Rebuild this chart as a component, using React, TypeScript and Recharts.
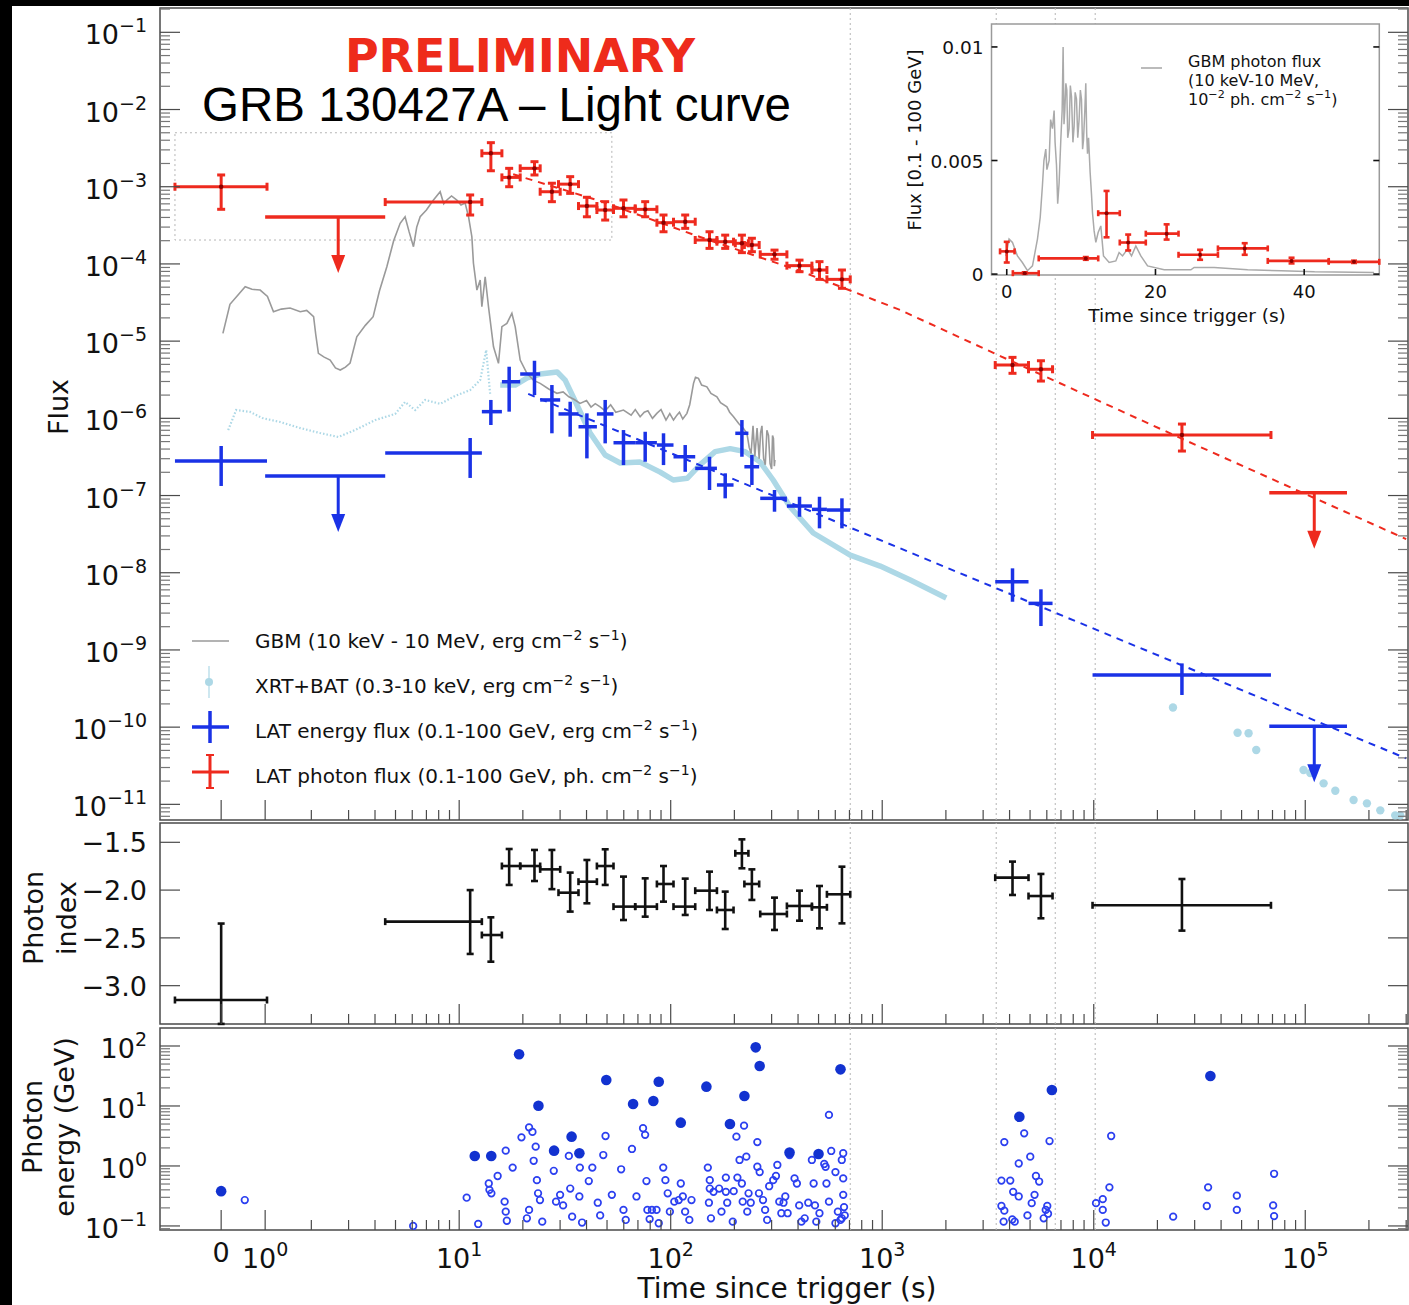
import React from 'react';
import { ComposedChart, Scatter, Line, XAxis, YAxis, ErrorBar, ReferenceLine, ReferenceArea, CartesianGrid } from 'recharts';

// ---------------- LAT time bins (s) ----------------
const LAT_T = [0, 11.27, 14.12, 17.23, 22.7, 27.44, 33.48, 40.16, 49.01, 59.81, 75.75, 92.47, 117.1, 152.6, 181.0, 217.1, 242.0, 309.6, 406.4, 505.2, 645.0, 4130, 5628, 26120];
const LAT_T_LO = [-1.05, 4.47, 12.8, 15.92, 19.43, 24.15, 29.48, 36.65, 44.78, 53.65, 67.95, 86.05, 103.1, 130.6, 165.4, 202, 223, 265.0, 354.3, 465.2, 547.7, 3422, 4916, 9870];
const LAT_T_HI = [1.04, 12.8, 15.92, 19.43, 24.15, 30.03, 36.65, 44.78, 53.65, 67.95, 86.05, 103.1, 130.6, 165.4, 198.2, 233, 262, 354.3, 465.2, 547.7, 706.0, 4916, 6386, 68840];

// LAT photon flux (ph cm-2 s-1)
const RED_F = [1.0e-3, 6.33e-4, 2.71e-3, 1.32e-3, 1.73e-3, 8.61e-4, 1.08e-3, 5.62e-4, 4.99e-4, 5.25e-4, 5.09e-4, 3.42e-4, 3.52e-4, 2.04e-4, 1.94e-4, 1.85e-4, 1.76e-4, 1.33e-4, 9.5e-5, 8.34e-5, 6.31e-5, 4.9e-6, 4.32e-6, 6.08e-7];
const RED_F_LO = [5.1e-4, 4.3e-4, 1.61e-3, 1.0e-3, 1.42e-3, 6.4e-4, 8.2e-4, 4.08e-4, 3.7e-4, 4.08e-4, 4.08e-4, 2.61e-4, 2.89e-4, 1.59e-4, 1.59e-4, 1.4e-4, 1.44e-4, 1.15e-4, 7.93e-5, 6.31e-5, 4.83e-5, 3.83e-6, 3.04e-6, 3.77e-7];
const RED_F_HI = [1.42e-3, 7.82e-4, 3.72e-3, 1.73e-3, 2.11e-3, 1.11e-3, 1.35e-3, 7.3e-4, 6.4e-4, 6.73e-4, 6.4e-4, 4.3e-4, 4.3e-4, 2.61e-4, 2.36e-4, 2.36e-4, 2.15e-4, 1.51e-4, 1.12e-4, 1.07e-4, 8.34e-5, 6.16e-6, 5.57e-6, 8.43e-7];

// LAT energy flux (erg cm-2 s-1)
const BLUE_F = [2.8e-7, 3.55e-7, 1.22e-6, 2.98e-6, 3.75e-6, 1.73e-6, 1.14e-6, 7.78e-7, 1.14e-6, 4.83e-7, 4.83e-7, 4.51e-7, 3.18e-7, 2.25e-7, 1.37e-7, 6.4e-7, 2.36e-7, 9.2e-8, 7.31e-8, 6.62e-8, 6.49e-8, 7.64e-9, 4.01e-9, 4.73e-10];
const BLUE_F_LO = [1.33e-7, 1.69e-7, 8.19e-7, 1.22e-6, 2.0e-6, 6.4e-7, 5.78e-7, 3.03e-7, 4.74e-7, 2.48e-7, 2.74e-7, 2.48e-7, 2.03e-7, 1.18e-7, 9.2e-8, 3.18e-7, 1.37e-7, 6.17e-8, 5.31e-8, 3.76e-8, 3.76e-8, 4.21e-9, 2.04e-9, 2.61e-10];
const BLUE_F_HI = [4.38e-7, 5.56e-7, 1.73e-6, 4.66e-6, 5.57e-6, 2.7e-6, 1.64e-6, 1.16e-6, 1.73e-6, 7.05e-7, 6.7e-7, 6.4e-7, 4.51e-7, 3.18e-7, 1.94e-7, 9.5e-7, 3.35e-7, 1.18e-7, 9.64e-8, 9.64e-8, 9.2e-8, 1.14e-8, 6.1e-9, 6.7e-10];

// Photon index (first lower bound is where the bar leaves the panel)
const IDX = [-3.15, -2.33, -2.47, -1.748, -1.748, -1.783, -2.027, -1.912, -1.748, -2.173, -2.173, -1.936, -2.173, -2.006, -2.208, -1.615, -1.936, -2.25, -2.166, -2.18, -2.044, -1.87, -2.062, -2.159];
const IDX_LO = [-3.40, -2.668, -2.749, -1.946, -1.905, -1.99, -2.225, -2.138, -1.946, -2.313, -2.278, -2.121, -2.26, -2.208, -2.407, -1.772, -2.103, -2.417, -2.32, -2.4, -2.348, -2.051, -2.295, -2.424];
const IDX_HI = [-2.35, -2.0, -2.285, -1.57, -1.58, -1.58, -1.817, -1.685, -1.573, -1.859, -1.877, -1.748, -1.88, -1.807, -2.016, -1.469, -1.783, -2.079, -2.006, -1.957, -1.755, -1.702, -1.831, -1.884];

// Upper limits
const UL_T = [2.68, 110300];
const UL_T_LO = [1.0, 67590];
const UL_T_HI = [4.47, 157500];
const RED_UL_F = [4.05e-4, 1.09e-7];
const BLUE_UL_F = [1.79e-7, 1.03e-10];

// Power-law fits (dashed)
const RED_FIT_T = [18.0, 46.4, 137.8, 409.6, 1217, 3614, 31900, 300000];
const RED_FIT_F = [1.45e-3, 6.53e-4, 2.23e-4, 8.09e-5, 2.53e-5, 6.41e-6, 4.25e-7, 2.73e-8];
const BLUE_FIT_T = [21.2, 300000];
const BLUE_FIT_F = [2.07e-6, 3.94e-11];

// GBM energy flux
const GBM_T = [0.04, 0.2, 0.546, 0.7, 0.887, 1.05, 1.18, 1.35, 1.54, 1.76, 1.9, 2.05, 2.1, 2.16, 2.3, 2.455, 2.6, 2.74, 2.9, 3.05, 3.28, 3.6, 3.92, 4.2, 4.55, 4.9, 5.26, 5.55, 5.8, 6.08, 6.3, 6.54, 7.0, 7.56, 8.13, 8.45, 8.75, 9.2, 9.75, 10.2, 10.67, 11.07, 11.48, 11.68, 12.13, 12.57, 12.8, 13.27, 13.76, 14.53, 15.34, 15.92, 16.81, 17.75, 18.4, 19.43, 20.9, 22.5, 24.15, 26.5, 28.97, 31, 33, 35, 37.3, 40, 42, 44, 46.4, 49, 52, 55, 59.8, 65, 68, 71.7, 75, 78, 82, 86.0, 90, 95, 99, 103.1, 107, 110, 114, 119.3, 123, 128.2, 131, 135.3, 140, 148.3, 155, 165.4, 172, 184.4, 190, 198.2, 210, 220, 229.3, 235, 240, 245, 250, 256, 262, 266, 270, 275, 280, 285, 290, 295, 300, 303, 306, 309, 311];
const GBM_F = [1.26e-5, 3.0e-5, 5.07e-5, 4.7e-5, 4.59e-5, 3.8e-5, 2.4e-5, 2.6e-5, 2.69e-5, 2.4e-5, 2.5e-5, 2.07e-5, 1.2e-5, 6.95e-6, 6.2e-6, 5.69e-6, 4.5e-6, 4.22e-6, 4.6e-6, 5.2e-6, 1.14e-5, 1.6e-5, 2.07e-5, 4.5e-5, 9.2e-5, 2.0e-4, 3.36e-4, 4.09e-4, 2.6e-4, 1.67e-4, 3.0e-4, 4.09e-4, 5.0e-4, 6.73e-4, 8.61e-4, 6.0e-4, 6.73e-4, 7.6e-4, 6.73e-4, 5.8e-4, 6.15e-4, 4.09e-4, 2.25e-4, 1.02e-4, 4.59e-5, 6.18e-5, 2.79e-5, 6.82e-5, 2.79e-5, 8.45e-6, 5.15e-6, 1.54e-5, 1.7e-5, 2.29e-5, 1.54e-5, 5.69e-6, 3.83e-6, 3.1e-6, 2.84e-6, 2.4e-6, 2.11e-6, 2.2e-6, 1.9e-6, 1.75e-6, 1.56e-6, 1.7e-6, 1.4e-6, 1.55e-6, 1.41e-6, 1.25e-6, 1.5e-6, 1.2e-6, 1.28e-6, 1.1e-6, 1.3e-6, 1.05e-6, 1.2e-6, 1.25e-6, 1.0e-6, 1.16e-6, 1.3e-6, 9.5e-7, 1.15e-6, 9.5e-7, 1.1e-6, 1.2e-6, 9.8e-7, 1.16e-6, 1.5e-6, 2.84e-6, 3.4e-6, 3.3e-6, 2.7e-6, 2.56e-6, 2.1e-6, 1.9e-6, 1.6e-6, 1.41e-6, 1.2e-6, 1.05e-6, 8.5e-7, 7.5e-7, 6.4e-7, 4.2e-7, 3.5e-7, 8.0e-7, 3.2e-7, 7.5e-7, 3.0e-7, 6.5e-7, 8.0e-7, 3.0e-7, 2.5e-7, 7.0e-7, 6.0e-7, 2.6e-7, 2.2e-7, 6.0e-7, 5.5e-7, 2.4e-7, 2.9e-7];

// Swift BAT (early) and XRT
const BAT_T = [0.16, 0.34, 0.659, 0.932, 1.33, 1.76, 2.2, 2.68, 3.22, 4.01, 4.98, 5.55, 6.19, 6.91, 8.13, 9.57, 11.27, 12.57, 13.42, 14.02];
const BAT_F = [7.05e-7, 1.28e-6, 1.21e-6, 1.01e-6, 8.95e-7, 7.48e-7, 6.45e-7, 5.73e-7, 7.05e-7, 9.5e-7, 1.14e-6, 1.63e-6, 1.28e-6, 1.73e-6, 1.54e-6, 1.95e-6, 2.33e-6, 3.13e-6, 7.66e-6, 2.01e-6];
const XRT_T = [15.63, 18.4, 20.97, 24.15, 29.06, 31.7, 34.6, 41.6, 49.0, 57.7, 71.7, 89.2, 102.8, 119.7, 137.9, 162.3, 191.1, 225, 265, 305, 367, 472, 706, 978, 1357, 2008];
const XRT_F = [2.7e-6, 2.7e-6, 3.33e-6, 3.75e-6, 3.98e-6, 3.13e-6, 1.89e-6, 6.45e-7, 3.35e-7, 2.64e-7, 2.71e-7, 2.01e-7, 1.59e-7, 1.67e-7, 2.51e-7, 3.7e-7, 4.05e-7, 3.7e-7, 2.71e-7, 1.59e-7, 7.1e-8, 3.27e-8, 1.69e-8, 1.22e-8, 8.04e-9, 4.7e-9];
const XRT_LATE_T = [23690, 47860, 53950, 58650, 98130, 105600, 122100, 138700, 169200, 195700, 226300, 266200, 281000];
const XRT_LATE_F = [1.8e-10, 8.45e-11, 8.35e-11, 5.05e-11, 2.78e-11, 2.54e-11, 1.87e-11, 1.5e-11, 1.14e-11, 1.03e-11, 8.36e-12, 7.2e-12, 7.2e-12];

// Photon energies (GeV): filled and open markers
const FILLED_T = [0, 11.85, 14.18, 19.2, 23.7, 28.1, 34.0, 37.0, 49.6, 66.4, 82.8, 87.8, 111.6, 147.5, 190.6, 223.1, 252.3, 263.4, 364.6, 500, 635, 4450, 6340, 35600];
const FILLED_E = [0.38, 1.47, 1.47, 72.8, 10.1, 1.8, 3.08, 1.63, 27.1, 10.8, 12.1, 25.4, 5.27, 21.0, 5.0, 14.7, 95, 46.4, 1.67, 1.58, 40.8, 6.6, 18.5, 31.6];
const OPEN_T = [0.537, 6.06, 10.85, 12.3, 13.8, 13.9, 14.2, 15.2, 16.6, 16.4, 16.6, 16.8, 17.9, 19.7, 21.4, 22.2, 22.5, 23.0, 21.4, 20.9, 23.3, 23.6, 24.1, 24.7, 28.0, 28.7, 30.0, 31.0, 33.0, 33.5, 34.2, 37.2, 38.1, 41.0, 42.6, 45.2, 48.0, 49.2, 46.4, 52.7, 58.3, 59.8, 61.3, 65.6, 68.9, 74.0, 75.7, 76.8, 77.6, 79.5, 81.5, 85.7, 87.8, 92.2, 94.4, 96.8, 99.1, 104.0, 109.1, 111.6, 114.1, 117.0, 122.5, 125.4, 37.0,
  149.8, 153, 153, 159.4, 151.6, 155, 169.4, 182.3, 182.3, 185, 173.8, 196.5, 198.5, 204.5, 206.7, 211.6, 217, 222.2, 219, 227.8, 230.1, 233.4, 239, 256.8, 256.8, 263.4, 261.3, 273.2, 279.5, 285.8, 292.1, 305.3, 314.5, 319.3, 326.1, 333.5, 341.4, 348.2, 357.1, 364.8, 385, 395, 405, 415, 430, 447, 465, 474, 481, 488, 505, 532, 540, 545, 560, 560, 574, 601, 601, 617, 644, 654, 654, 654, 660, 665, 644, 635,
  3778, 3661, 4030, 4160, 4420, 4690, 5010, 4420, 3661, 3778, 4120, 4230, 3750, 4860, 5090, 5250, 5330, 5520, 5800, 5930, 6080, 6180, 6030,
  12090, 11860, 11030, 10250, 11030, 11400, 23740, 34730, 34240, 47480, 47480, 71230, 70500, 71230];
const OPEN_E = [0.27, 0.1, 0.296, 0.108, 0.51, 0.4, 0.35, 0.68, 1.8, 0.254, 0.173, 0.122, 0.94, 3.0, 4.4, 3.7, 1.22, 2.1, 0.185, 0.134, 0.58, 0.35, 0.27, 0.118, 0.83, 0.254, 0.33, 0.22, 1.47, 0.42, 0.143, 0.94, 0.114, 0.56, 0.94, 0.244, 1.52, 3.16, 0.15, 0.33, 0.88, 0.185, 0.126, 1.92, 0.31, 4.25, 3.3, 0.56, 0.185, 0.13, 0.185, 0.185, 0.111, 0.94, 0.58, 0.35, 0.173, 0.254, 0.27, 0.51, 0.31, 0.173, 0.126, 0.27, 0.31,
  0.94, 0.58, 0.42, 0.37, 0.244, 0.134, 0.42, 0.64, 0.37, 0.244, 0.173, 0.118, 0.38, 3.08, 0.64, 1.26, 0.51, 4.7, 0.254, 1.43, 0.173, 0.35, 0.244, 0.97, 2.5, 0.79, 0.35, 0.27, 0.185, 0.126, 0.46, 0.58, 0.68, 1.04, 0.254, 0.163, 0.244, 0.31, 0.163, 1.52, 0.62, 0.51, 0.22, 0.118, 0.134, 0.244, 1.26, 0.51, 0.22, 0.118, 0.163, 1.08, 0.97, 0.51, 7.1, 0.254, 1.78, 0.79, 0.111, 0.173, 1.26, 1.63, 0.62, 0.33, 0.206, 0.15, 0.134, 0.126,
  2.5, 0.57, 0.57, 0.37, 1.1, 3.5, 1.43, 0.31, 0.215, 0.18, 0.128, 0.118, 0.118, 0.15, 0.24, 0.33, 0.68, 0.55, 0.134, 0.185, 0.16, 2.6, 0.215,
  3.16, 0.44, 0.28, 0.24, 0.185, 0.114, 0.143, 0.44, 0.215, 0.32, 0.185, 0.74, 0.22, 0.146];

// Inset (linear): GBM photon flux and LAT photon flux
const INSET_GBM_T = [-0.13, 0.31, 0.77, 1.44, 2.1, 2.79, 3.46, 4.13, 4.5, 4.8, 5.0, 5.25, 5.4, 5.7, 5.9, 6.15, 6.37, 6.5, 6.69, 6.85, 7.04, 7.27, 7.45, 7.58, 7.7, 7.81, 7.95, 8.08, 8.2, 8.39, 8.55, 8.71, 8.9, 9.06, 9.2, 9.38, 9.55, 9.73, 9.9, 10.05, 10.2, 10.32, 10.5, 10.63, 10.75, 10.86, 11.0, 11.21, 11.4, 11.53, 11.75, 11.98, 12.29, 12.65, 13.01, 13.77, 14.67, 15.11, 15.57, 16.24, 16.78, 17.36, 18.03, 18.94, 21.17, 24.76, 25.2, 27.9, 32.4, 36.9, 41.4, 49.4];
const INSET_GBM_V = [0.0008, 0.00154, 0.00139, 0.0008, 0.00051, 0.00015, 0.00036, 0.00154, 0.0025, 0.0039, 0.005, 0.0055, 0.0046, 0.005, 0.0068, 0.0064, 0.0072, 0.0058, 0.0048, 0.0031, 0.004, 0.0059, 0.0072, 0.01, 0.0066, 0.0072, 0.0084, 0.0081, 0.006, 0.0064, 0.0083, 0.0078, 0.0058, 0.0065, 0.008, 0.0077, 0.006, 0.0068, 0.0081, 0.0077, 0.0055, 0.0059, 0.0072, 0.0084, 0.0062, 0.0053, 0.006, 0.0045, 0.0035, 0.0027, 0.0019, 0.0014, 0.00183, 0.00212, 0.0008, 0.00051, 0.00058, 0.00095, 0.0008, 0.0011, 0.0008, 0.00124, 0.0008, 0.00036, 0.00019, 0.00019, 0.00029, 0.00029, 0.00019, 0.00015, 0.0001, 0.00007];
const INSET_RED_T = [0, 2.42, 10.63, 13.42, 16.33, 21.5, 26.0, 32.0, 38.3, 46.7];
const INSET_RED_T_LO = [-0.9, 0.82, 4.3, 12.3, 15.2, 18.7, 23.1, 28.4, 35.1, 43.3];
const INSET_RED_T_HI = [1.05, 4.3, 12.3, 15.2, 18.7, 23.1, 28.4, 35.1, 43.3, 50.1];
const INSET_RED_V = [0.001, 0.00004, 0.00069, 0.00268, 0.00139, 0.00178, 0.00085, 0.00113, 0.00058, 0.00054];
const INSET_RED_V_LO = [0.00051, 0.00001, 0.00063, 0.00162, 0.00104, 0.00152, 0.00063, 0.00085, 0.00047, 0.00049];
const INSET_RED_V_HI = [0.00142, 0.00008, 0.00075, 0.00366, 0.00174, 0.00219, 0.00107, 0.00136, 0.00072, 0.00059];

// Vertical dotted markers (s)
const VLINES = [706, 3459, 6577, 10160];

// ---------------- tables ----------------
const latTable = (v: number[], lo: number[], hi: number[]) => LAT_T.map((t, i) => ({ t, f: v[i], ex: [t - LAT_T_LO[i], LAT_T_HI[i] - t], ey: [v[i] - lo[i], hi[i] - v[i]] }));
const RED_TABLE = latTable(RED_F, RED_F_LO, RED_F_HI);
const BLUE_TABLE = latTable(BLUE_F, BLUE_F_LO, BLUE_F_HI);
const INDEX_TABLE = latTable(IDX, IDX_LO, IDX_HI);
const ulTable = (v: number[]) => UL_T.map((t, i) => ({ t, f: v[i], ex: [t - UL_T_LO[i], UL_T_HI[i] - t] }));
const RED_UL_TABLE = ulTable(RED_UL_F);
const BLUE_UL_TABLE = ulTable(BLUE_UL_F);
const pairs = (ts: number[], fs: number[]) => ts.map((t, i) => ({ t, f: fs[i] }));
const GBM_TABLE = pairs(GBM_T, GBM_F);
const BAT_TABLE = pairs(BAT_T, BAT_F);
const XRT_TABLE = pairs(XRT_T, XRT_F);
const XRT_LATE_TABLE = pairs(XRT_LATE_T, XRT_LATE_F);
const RED_FIT_TABLE = pairs(RED_FIT_T, RED_FIT_F);
const BLUE_FIT_TABLE = pairs(BLUE_FIT_T, BLUE_FIT_F);
const FILLED_TABLE = pairs(FILLED_T, FILLED_E);
const OPEN_TABLE = pairs(OPEN_T, OPEN_E);
const INSET_GBM_TABLE = INSET_GBM_T.map((t, i) => ({ t, v: INSET_GBM_V[i] }));
const INSET_RED_TABLE = INSET_RED_T.map((t, i) => ({ t, v: INSET_RED_V[i], ex: [t - INSET_RED_T_LO[i], INSET_RED_T_HI[i] - t], ey: [INSET_RED_V[i] - INSET_RED_V_LO[i], INSET_RED_V_HI[i] - INSET_RED_V[i]] }));

// ---------------- styling ----------------
const FONT = "'DejaVu Sans', 'Noto Sans', sans-serif";
const AX = '#4a4a4a';
const RED = '#ee2a1e';
const BLUE = '#1a32e6';
const LIGHT = '#add8e6';
const GRAY = '#9a9a9a';
const MINUS = '\u2212';

// ---------------- custom time axis scale ----------------
const U0 = -0.1253;
const U1 = 0.0827;
const U2 = Math.log10(2);
function tForward(t: number): number {
  if (t >= 2) return Math.log10(t);
  if (t >= 1) return U1 + (t - 1) * (U2 - U1);
  return U0 + t * (U1 - U0);
}
const X_MAJOR = [0, 1, 10, 100, 1000, 10000, 100000];
const X_MINOR: number[] = [];
[1, 10, 100, 1000, 10000, 100000].forEach((d) => { for (let k = 2; k <= 9; k++) if (k * d <= 306000) X_MINOR.push(k * d); });
const X_TICKS = [...X_MAJOR, ...X_MINOR].sort((a, b) => a - b);
function makeTimeScale(d0: number[] = [0, 1], r0: number[] = [0, 1]): any {
  let dom = d0.slice();
  let rng = r0.slice();
  const scale: any = (v: any) => {
    const a = tForward(dom[0]);
    const b = tForward(dom[1]);
    return rng[0] + ((tForward(Number(v)) - a) / (b - a)) * (rng[1] - rng[0]);
  };
  scale.domain = (d?: any[]) => { if (d === undefined) return dom.slice(); dom = [Number(d[0]), Number(d[d.length - 1])]; return scale; };
  scale.range = (r?: any[]) => { if (r === undefined) return rng.slice(); rng = [Number(r[0]), Number(r[r.length - 1])]; return scale; };
  scale.copy = () => makeTimeScale(dom, rng);
  scale.ticks = () => X_TICKS;
  scale.tickFormat = () => (v: any) => String(v);
  scale.clamp = () => scale;
  scale.nice = () => scale;
  return scale;
}
const T_DOMAIN = [-1.39, 306000];

function logTicks(lo: number, hi: number): number[] {
  const out: number[] = [];
  for (let e = Math.floor(Math.log10(lo)); e <= Math.ceil(Math.log10(hi)); e++) {
    for (let k = 1; k <= 9; k++) {
      const v = k * Math.pow(10, e);
      if (v >= lo && v <= hi) out.push(v);
    }
  }
  return out;
}
const isPow10 = (v: number) => v > 0 && Math.abs(Math.log10(v) - Math.round(Math.log10(v))) < 1e-6;
const TOP_DOMAIN = [6.27e-12, 0.2065];
const TOP_TICKS = logTicks(TOP_DOMAIN[0], TOP_DOMAIN[1]);
const BOT_DOMAIN = [0.0856, 199.5];
const BOT_TICKS = logTicks(BOT_DOMAIN[0], BOT_DOMAIN[1]);
const MID_DOMAIN = [-3.401, -1.298];
const MID_TICKS = [-3.0, -2.5, -2.0, -1.5];

// ---------------- tick renderers ----------------
const xTick = (labels: boolean) => (p: any) => {
  const { x, y, payload } = p;
  const v = payload.value;
  const major = v === 0 || isPow10(v);
  const len = major ? 20 : 10;
  let lab: any = null;
  if (labels && major) {
    if (v === 0) lab = <text x={x} y={y + 32} textAnchor="middle" fontSize={27} fill="#111">0</text>;
    else lab = (
      <text x={x} y={y + 38} textAnchor="middle" fontSize={27} fill="#111">
        <tspan>10</tspan><tspan dy={-12} fontSize={19}>{Math.round(Math.log10(v))}</tspan>
      </text>
    );
  }
  return <g><line x1={x} x2={x} y1={y} y2={y - len} stroke={AX} strokeWidth={1.2} />{lab}</g>;
};
const logYTick = (side: string, labels: boolean) => (p: any) => {
  const { x, y, payload } = p;
  const v = payload.value;
  const major = isPow10(v);
  const len = major ? 20 : 10;
  const dir = side === 'left' ? 1 : -1;
  const e = Math.round(Math.log10(v));
  return (
    <g>
      <line x1={x} x2={x + dir * len} y1={y} y2={y} stroke={major ? AX : '#777'} strokeWidth={1.2} />
      {labels && major ? (
        <text x={x - 13} y={y + 12} textAnchor="end" fontSize={27} fill="#111">
          <tspan>10</tspan><tspan dy={-12} fontSize={19}>{e < 0 ? MINUS + Math.abs(e) : String(e)}</tspan>
        </text>
      ) : null}
    </g>
  );
};
const linYTick = (side: string, labels: boolean) => (p: any) => {
  const { x, y, payload } = p;
  const v = payload.value;
  const dir = side === 'left' ? 1 : -1;
  return (
    <g>
      <line x1={x} x2={x + dir * 20} y1={y} y2={y} stroke={AX} strokeWidth={1.2} />
      {labels ? <text x={x - 13} y={y + 10} textAnchor="end" fontSize={27} fill="#111">{v.toFixed(1).replace('-', MINUS)}</text> : null}
    </g>
  );
};
const insetXTick = (pos: string, labels: boolean) => (p: any) => {
  const { x, y, payload } = p;
  const d = pos === 'bottom' ? -1 : 1;
  return (
    <g>
      <line x1={x} x2={x} y1={y} y2={y + d * 6} stroke="#111" strokeWidth={1.6} />
      {labels ? <text x={x} y={y + 23} textAnchor="middle" fontSize={18} fill="#111">{String(payload.value)}</text> : null}
    </g>
  );
};
const insetYTick = (side: string, labels: boolean) => (p: any) => {
  const { x, y, payload } = p;
  const d = side === 'left' ? 1 : -1;
  return (
    <g>
      <line x1={x} x2={x + d * 6} y1={y} y2={y} stroke="#111" strokeWidth={1.6} />
      {labels ? <text x={x - 8} y={y + 7} textAnchor="end" fontSize={18.5} fill="#111">{String(payload.value)}</text> : null}
    </g>
  );
};

// ---------------- shapes ----------------
const dotShape = (r: number, fill: string, stroke = 'none', sw = 0) => (p: any) => (
  <circle cx={p.cx} cy={p.cy} r={r} fill={fill} stroke={stroke} strokeWidth={sw} />
);
const noShape = () => <g />;
const arrowShape = (c: string) => (p: any) => (
  <g>
    <line x1={p.cx} y1={p.cy} x2={p.cx} y2={p.cy + 40} stroke={c} strokeWidth={3} />
    <polygon points={`${p.cx - 7},${p.cy + 38} ${p.cx + 7},${p.cy + 38} ${p.cx},${p.cy + 56}`} fill={c} />
  </g>
);

const commonX = (labels: boolean, height: number) => (
  <XAxis dataKey="t" type="number" scale={makeTimeScale()} domain={T_DOMAIN} allowDataOverflow ticks={X_TICKS} interval={0}
    tickSize={0} tickMargin={0} tickLine={false} axisLine={false} height={height} tick={xTick(labels)} />
);
const frame = (yd: number[]) => (
  <ReferenceArea x1={T_DOMAIN[0]} x2={T_DOMAIN[1]} y1={yd[0]} y2={yd[1]} fill="none" stroke={AX} strokeWidth={1.5} ifOverflow="visible" />
);
const vlines = () => VLINES.map((v) => <ReferenceLine key={v} x={v} stroke="#b5b5b5" strokeWidth={1} strokeDasharray="2 3" ifOverflow="visible" />);

function TopPanel() {
  return (
    <ComposedChart width={1409} height={840} margin={{ top: 8, right: 0, bottom: 0, left: 0 }}>
      {commonX(false, 20)}
      <YAxis type="number" scale="log" domain={TOP_DOMAIN} allowDataOverflow ticks={TOP_TICKS} interval={0}
        tickSize={0} tickMargin={0} tickLine={false} axisLine={false} width={160} tick={logYTick('left', true)} />
      <YAxis yAxisId="r" orientation="right" type="number" scale="log" domain={TOP_DOMAIN} allowDataOverflow ticks={TOP_TICKS} interval={0}
        tickSize={0} tickMargin={0} tickLine={false} axisLine={false} width={1} tick={logYTick('right', false)} />
      <ReferenceArea x1={-1.05} x2={52.7} y1={2.04e-4} y2={5.0e-3} fill="none" stroke="#b5b5b5" strokeDasharray="2 3" ifOverflow="visible" />
      {vlines()}
      <Line data={BAT_TABLE} dataKey="f" stroke={LIGHT} strokeWidth={2.2} strokeDasharray="1.5 2" dot={false} isAnimationActive={false} />
      <Line data={XRT_TABLE} dataKey="f" stroke={LIGHT} strokeWidth={5.5} strokeLinejoin="round" dot={false} isAnimationActive={false} />
      <Scatter data={XRT_LATE_TABLE} dataKey="f" shape={dotShape(4.2, LIGHT)} isAnimationActive={false} />
      <Line data={GBM_TABLE} dataKey="f" stroke={GRAY} strokeWidth={1.6} dot={false} isAnimationActive={false} />
      <Line data={RED_FIT_TABLE} dataKey="f" stroke={RED} strokeWidth={2} strokeDasharray="7 6" dot={false} isAnimationActive={false} />
      <Line data={BLUE_FIT_TABLE} dataKey="f" stroke={BLUE} strokeWidth={2} strokeDasharray="7 6" dot={false} isAnimationActive={false} />
      <Scatter data={BLUE_TABLE} dataKey="f" shape={dotShape(1.5, BLUE)} isAnimationActive={false}>
        <ErrorBar dataKey="ex" direction="x" stroke={BLUE} strokeWidth={3.5} width={0} />
        <ErrorBar dataKey="ey" direction="y" stroke={BLUE} strokeWidth={3.5} width={0} />
      </Scatter>
      <Scatter data={BLUE_UL_TABLE} dataKey="f" shape={arrowShape(BLUE)} isAnimationActive={false}>
        <ErrorBar dataKey="ex" direction="x" stroke={BLUE} strokeWidth={3.5} width={0} />
      </Scatter>
      <Scatter data={RED_TABLE} dataKey="f" shape={dotShape(2.2, '#8a0000')} isAnimationActive={false}>
        <ErrorBar dataKey="ex" direction="x" stroke={RED} strokeWidth={3} width={4} />
        <ErrorBar dataKey="ey" direction="y" stroke={RED} strokeWidth={3} width={4} />
      </Scatter>
      <Scatter data={RED_UL_TABLE} dataKey="f" shape={arrowShape(RED)} isAnimationActive={false}>
        <ErrorBar dataKey="ex" direction="x" stroke={RED} strokeWidth={3.5} width={0} />
      </Scatter>
      {frame(TOP_DOMAIN)}
    </ComposedChart>
  );
}

function MidPanel() {
  return (
    <ComposedChart width={1409} height={231} margin={{ top: 10, right: 0, bottom: 0, left: 0 }}>
      {commonX(false, 20)}
      <YAxis type="number" domain={MID_DOMAIN} allowDataOverflow ticks={MID_TICKS} interval={0}
        tickSize={0} tickMargin={0} tickLine={false} axisLine={false} width={160} tick={linYTick('left', true)} />
      <YAxis yAxisId="r" orientation="right" type="number" domain={MID_DOMAIN} allowDataOverflow ticks={MID_TICKS} interval={0}
        tickSize={0} tickMargin={0} tickLine={false} axisLine={false} width={1} tick={linYTick('right', false)} />
      {vlines()}
      <Scatter data={INDEX_TABLE} dataKey="f" shape={noShape} isAnimationActive={false}>
        <ErrorBar dataKey="ex" direction="x" stroke="#111" strokeWidth={2.6} width={3.5} />
        <ErrorBar dataKey="ey" direction="y" stroke="#111" strokeWidth={2.6} width={3.5} />
      </Scatter>
      {frame(MID_DOMAIN)}
    </ComposedChart>
  );
}

function BottomPanel() {
  return (
    <ComposedChart width={1409} height={287} margin={{ top: 10, right: 0, bottom: 0, left: 0 }}>
      {commonX(true, 75)}
      <YAxis type="number" scale="log" domain={BOT_DOMAIN} allowDataOverflow ticks={BOT_TICKS} interval={0}
        tickSize={0} tickMargin={0} tickLine={false} axisLine={false} width={160} tick={logYTick('left', true)} />
      <YAxis yAxisId="r" orientation="right" type="number" scale="log" domain={BOT_DOMAIN} allowDataOverflow ticks={BOT_TICKS} interval={0}
        tickSize={0} tickMargin={0} tickLine={false} axisLine={false} width={1} tick={logYTick('right', false)} />
      {vlines()}
      <Scatter data={OPEN_TABLE} dataKey="f" shape={dotShape(3.3, 'none', '#2b3ff0', 1.7)} isAnimationActive={false} />
      <Scatter data={FILLED_TABLE} dataKey="f" shape={dotShape(5.3, '#1232d0')} isAnimationActive={false} />
      {frame(BOT_DOMAIN)}
    </ComposedChart>
  );
}

const INSET_XD = [-2.05, 50.1];
const INSET_YD = [-0.00004, 0.01101];
function InsetPanel() {
  return (
    <ComposedChart width={500} height={320} margin={{ top: 9, right: 19.7, bottom: 0, left: 0 }}>
      <CartesianGrid fill="#fff" stroke="none" horizontal={false} vertical={false} />
      <XAxis dataKey="t" type="number" domain={INSET_XD} allowDataOverflow ticks={[0, 20, 40]} interval={0}
        tickSize={0} tickMargin={0} tickLine={false} axisLine={false} height={59} tick={insetXTick('bottom', true)} />
      <XAxis xAxisId="top" orientation="top" type="number" domain={INSET_XD} allowDataOverflow ticks={[0, 20, 40]} interval={0}
        tickSize={0} tickMargin={0} tickLine={false} axisLine={false} height={1} tick={insetXTick('top', false)} />
      <YAxis type="number" domain={INSET_YD} allowDataOverflow ticks={[0, 0.005, 0.01]} interval={0}
        tickSize={0} tickMargin={0} tickLine={false} axisLine={false} width={91.5} tick={insetYTick('left', true)} />
      <YAxis yAxisId="r" orientation="right" type="number" domain={INSET_YD} allowDataOverflow ticks={[0, 0.005, 0.01]} interval={0}
        tickSize={0} tickMargin={0} tickLine={false} axisLine={false} width={1} tick={insetYTick('right', false)} />
      <Line data={INSET_GBM_TABLE} dataKey="v" stroke="#aaaaaa" strokeWidth={1.5} dot={false} isAnimationActive={false} />
      <Scatter data={INSET_RED_TABLE} dataKey="v" shape={dotShape(2, '#8a0000')} isAnimationActive={false}>
        <ErrorBar dataKey="ex" direction="x" stroke={RED} strokeWidth={2.6} width={3} />
        <ErrorBar dataKey="ey" direction="y" stroke={RED} strokeWidth={2.6} width={3} />
      </Scatter>
      <ReferenceArea x1={INSET_XD[0]} x2={INSET_XD[1]} y1={INSET_YD[0]} y2={INSET_YD[1]} fill="none" stroke="#9a9a9a" strokeWidth={1.5} ifOverflow="visible" />
    </ComposedChart>
  );
}

// ---------------- text helpers ----------------
function Rich({ x, y, fs, parts, anchor = 'start', fill = '#111' }: any) {
  let up = false;
  const spans = parts.map((pp: any, i: number) => {
    const s = pp[0];
    const sup = pp[1];
    let dy = 0;
    if (sup && !up) { dy = -0.42 * fs; up = true; } else if (!sup && up) { dy = 0.42 * fs; up = false; }
    return <tspan key={i} dy={dy} fontSize={sup ? 0.7 * fs : fs}>{s}</tspan>;
  });
  return <text x={x} y={y} fontSize={fs} textAnchor={anchor} fill={fill}>{spans}</text>;
}
const units = (pre: string, tail: string) => [[pre + ' cm', false], [MINUS + '2', true], [' s', false], [MINUS + '1', true], [tail, false]];

function Overlay() {
  return (
    <svg width={1409} height={1305} style={{ position: 'absolute', left: 0, top: 0, pointerEvents: 'none', fontFamily: FONT }}>
      <text x={520} y={72} textAnchor="middle" fontSize={46} fontWeight="bold" fill="#ee2b1b">PRELIMINARY</text>
      <text x={202} y={121} fontSize={47.5} fill="#000" fontFamily="'Liberation Sans', Arial, sans-serif">GRB 130427A – Light curve</text>

      <text transform="translate(68,407) rotate(-90)" textAnchor="middle" fontSize={27} fill="#111">Flux</text>
      <text transform="translate(43,918) rotate(-90)" textAnchor="middle" fontSize={27} fill="#111">Photon</text>
      <text transform="translate(76,918) rotate(-90)" textAnchor="middle" fontSize={27} fill="#111">index</text>
      <text transform="translate(42,1127) rotate(-90)" textAnchor="middle" fontSize={27} fill="#111">Photon</text>
      <text transform="translate(74,1127) rotate(-90)" textAnchor="middle" fontSize={27} fill="#111">energy (GeV)</text>
      <text x={787} y={1298} textAnchor="middle" fontSize={28} fill="#111">Time since trigger (s)</text>

      {/* main legend */}
      <line x1={192} x2={229} y1={641} y2={641} stroke={GRAY} strokeWidth={1.3} />
      <Rich x={255} y={648} fs={20} parts={units('GBM (10 keV - 10 MeV, erg', ')')} />
      <line x1={209} x2={209} y1={666} y2={698} stroke={LIGHT} strokeWidth={1.2} />
      <circle cx={209} cy={682} r={4} fill={LIGHT} />
      <Rich x={255} y={693} fs={20} parts={units('XRT+BAT (0.3-10 keV, erg', ')')} />
      <line x1={192} x2={229} y1={727} y2={727} stroke={BLUE} strokeWidth={3.5} />
      <line x1={210} x2={210} y1={711} y2={743} stroke={BLUE} strokeWidth={3.5} />
      <Rich x={255} y={738} fs={20} parts={units('LAT energy flux (0.1-100 GeV, erg', ')')} />
      <line x1={192} x2={229} y1={772} y2={772} stroke={RED} strokeWidth={3} />
      <line x1={210} x2={210} y1={755} y2={788} stroke={RED} strokeWidth={3} />
      <line x1={206} x2={214} y1={755} y2={755} stroke={RED} strokeWidth={2} />
      <line x1={206} x2={214} y1={788} y2={788} stroke={RED} strokeWidth={2} />
      <Rich x={255} y={783} fs={20} parts={units('LAT photon flux (0.1-100 GeV, ph.', ')')} />

      {/* inset labels */}
      <text transform="translate(921,140) rotate(-90)" textAnchor="middle" fontSize={18} fill="#111">Flux [0.1 - 100 GeV]</text>
      <text x={1187} y={322} textAnchor="middle" fontSize={18.5} fill="#111">Time since trigger (s)</text>
      <line x1={1141} x2={1162} y1={68} y2={68} stroke="#aaaaaa" strokeWidth={1.6} />
      <text x={1188} y={67} fontSize={16} fill="#111">GBM photon flux</text>
      <text x={1188} y={86} fontSize={16} fill="#111">(10 keV-10 MeV,</text>
      <Rich x={1188} y={105} fs={16} parts={[['10', false], [MINUS + '2', true], [' ph. cm', false], [MINUS + '2', true], [' s', false], [MINUS + '1', true], [')', false]]} />
    </svg>
  );
}

export default function App() {
  return (
    <div style={{ position: 'absolute', left: 0, top: 0, width: 1409, height: 1305, background: '#000', overflow: 'hidden', fontFamily: FONT }}>
      <div style={{ position: 'absolute', left: 12, top: 6, width: 1397, height: 1299, background: '#fff' }} />
      <div style={{ position: 'absolute', left: 0, top: 0 }}><TopPanel /></div>
      <div style={{ position: 'absolute', left: 0, top: 813 }}><MidPanel /></div>
      <div style={{ position: 'absolute', left: 0, top: 1018 }}><BottomPanel /></div>
      <div style={{ position: 'absolute', left: 900, top: 14 }}><InsetPanel /></div>
      <Overlay />
    </div>
  );
}
